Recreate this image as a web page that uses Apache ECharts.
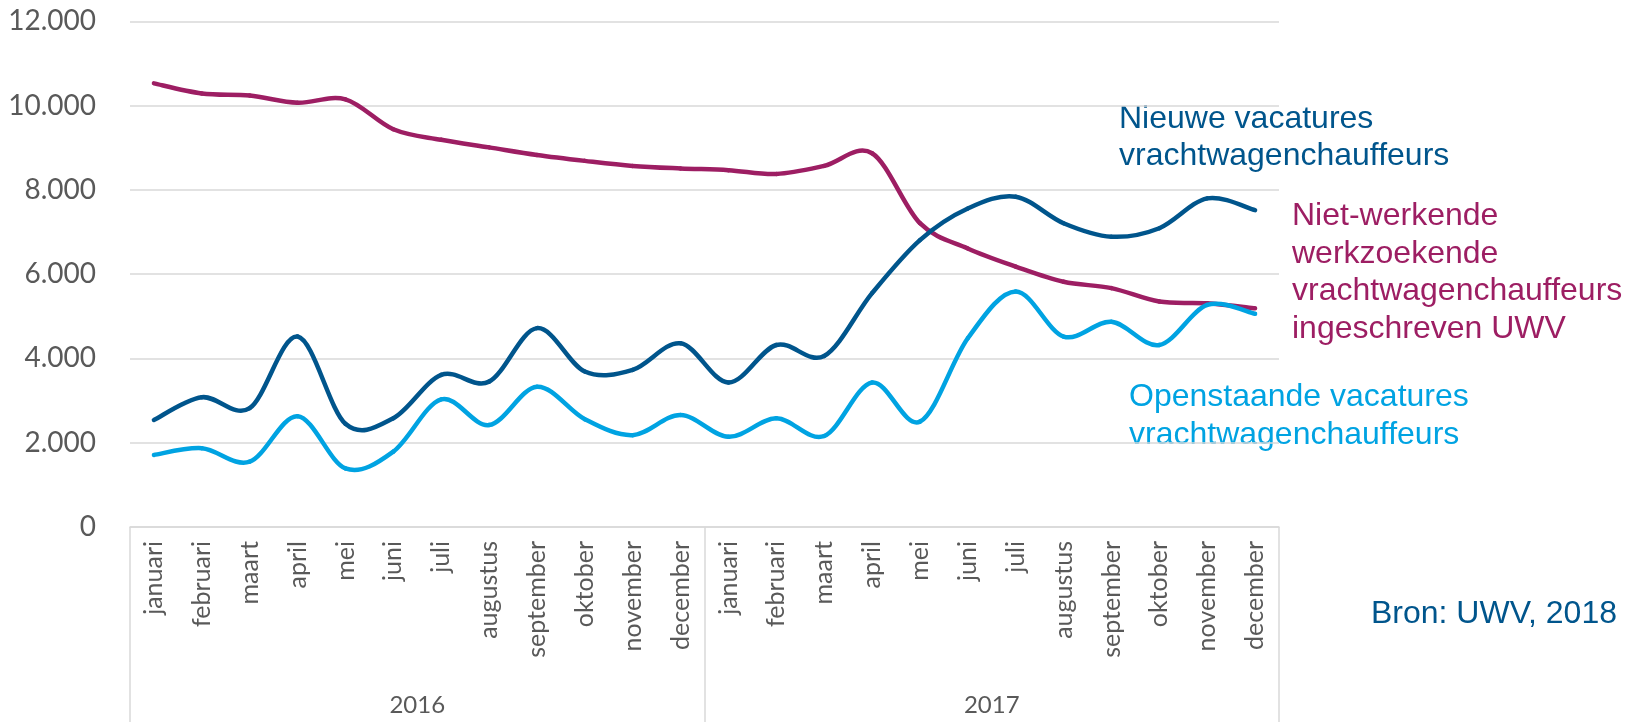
<!DOCTYPE html>
<html>
<head>
<meta charset="utf-8">
<style>html,body{margin:0;padding:0;background:#fff;}#c{width:1636px;height:722px;}</style>
<script src="https://cdn.jsdelivr.net/npm/echarts@6/dist/echarts.min.js"></script>
</head>
<body>
<div id="c"></div>
<script>
const months = ['januari','februari','maart','april','mei','juni','juli','augustus','september','oktober','november','december',
                'januari','februari','maart','april','mei','juni','juli','augustus','september','oktober','november','december'];
const years = ['2016','2017'];
const nieuweVacatures = [2540,3080,2820,4520,2450,2580,3610,3450,4720,3690,3730,4360,
                         3430,4320,4060,5550,6810,7560,7840,7210,6890,7090,7800,7520];
const nietWerkende = [10530,10290,10240,10070,10150,9440,9190,9010,8830,8690,8570,8510,
                      8470,8380,8570,8870,7210,6610,6180,5820,5670,5350,5310,5190];
const openstaande = [1710,1870,1550,2630,1390,1790,3030,2420,3330,2560,2180,2660,
                     2140,2580,2160,3430,2500,4480,5590,4520,4870,4320,5270,5060];
const labelNieuwe = 'Nieuwe vacatures\nvrachtwagenchauffeurs';
const labelNiet = 'Niet-werkende\nwerkzoekende\nvrachtwagenchauffeurs\ningeschreven UWV';
const labelOpen = 'Openstaande vacatures\nvrachtwagenchauffeurs';
const bron = 'Bron: UWV, 2018';

const C_DARK = '#00558c', C_MAG = '#9d1e63', C_LIGHT = '#00a3e2';
const GRID = '#d9d9d9', TXT = '#595959';
const chart = echarts.init(document.getElementById('c'));
const fmt = v => String(v).replace(/\B(?=(\d{3})+(?!\d))/g, '.');

// Smoothed line (Catmull-Rom, like Excel's smoothed lines), positions from the cartesian scales via api.coord
const splineSeries = (name, values, color) => ({
  name, type: 'custom', coordinateSystem: 'cartesian2d', xAxisIndex: 0, yAxisIndex: 0,
  data: values.map((v, i) => [i, v]), encode: { x: 0, y: 1 },
  clip: false, animation: false,
  renderItem: (params, api) => {
    const n = values.length, i = params.dataIndex;
    if (i >= n - 1) return null;
    const c = k => api.coord([Math.max(0, Math.min(n - 1, k)), values[Math.max(0, Math.min(n - 1, k))]]);
    const p0 = c(i - 1), p1 = c(i), p2 = c(i + 1), p3 = c(i + 2);
    return {
      type: 'bezierCurve',
      shape: {
        x1: p1[0], y1: p1[1], x2: p2[0], y2: p2[1],
        cpx1: p1[0] + (p2[0] - p0[0]) / 6, cpy1: p1[1] + (p2[1] - p0[1]) / 6,
        cpx2: p2[0] - (p3[0] - p1[0]) / 6, cpy2: p2[1] - (p3[1] - p1[1]) / 6
      },
      style: { stroke: color, lineWidth: 4.5, fill: null, lineCap: 'round', lineJoin: 'round' }
    };
  }
});

chart.setOption({
  animation: false,
  grid: { left: 130, right: 357, top: 21.4, bottom: 195, outerBoundsMode: 'none', containLabel: false },
  xAxis: [
    { type: 'category', data: months, boundaryGap: true,
      axisLine: { show: true, lineStyle: { color: GRID, width: 1.5 } },
      axisTick: { show: false },
      axisLabel: { rotate: 90, interval: 0, margin: 14, color: TXT, fontFamily: 'Lato', fontSize: 25 } },
    { type: 'category', data: years, position: 'bottom', boundaryGap: true,
      axisLine: { show: false },
      axisTick: { show: true, interval: 0, length: 200, lineStyle: { color: GRID, width: 1.5 } },
      axisLabel: { interval: 0, margin: 166, color: TXT, fontFamily: 'Lato', fontSize: 24 } }
  ],
  yAxis: { type: 'value', min: 0, max: 12000, interval: 2000,
    axisLine: { show: false }, axisTick: { show: false },
    splitLine: { lineStyle: { color: GRID, width: 1.5 } },
    axisLabel: { formatter: fmt, margin: 34, color: TXT, fontFamily: 'Lato', fontSize: 28 } },
  series: [
    splineSeries('Niet-werkende werkzoekende vrachtwagenchauffeurs ingeschreven UWV', nietWerkende, C_MAG),
    splineSeries('Nieuwe vacatures vrachtwagenchauffeurs', nieuweVacatures, C_DARK),
    splineSeries('Openstaande vacatures vrachtwagenchauffeurs', openstaande, C_LIGHT)
  ],
  graphic: [
    { type: 'text', left: 1119, top: 100, style: { text: labelNieuwe, fill: C_DARK, font: '32px "Liberation Sans", Arial, sans-serif', lineHeight: 37.5 } },
    { type: 'text', left: 1292, top: 197, style: { text: labelNiet, fill: C_MAG, font: '32px "Liberation Sans", Arial, sans-serif', lineHeight: 37.8 } },
    { type: 'text', left: 1129, top: 378.5, style: { text: labelOpen, fill: C_LIGHT, font: '32px "Liberation Sans", Arial, sans-serif', lineHeight: 37.5 } },
    { type: 'text', right: 19, top: 596, style: { text: bron, fill: C_DARK, font: '32px "Liberation Sans", Arial, sans-serif', lineHeight: 36 } }
  ]
});
</script>
</body>
</html>
